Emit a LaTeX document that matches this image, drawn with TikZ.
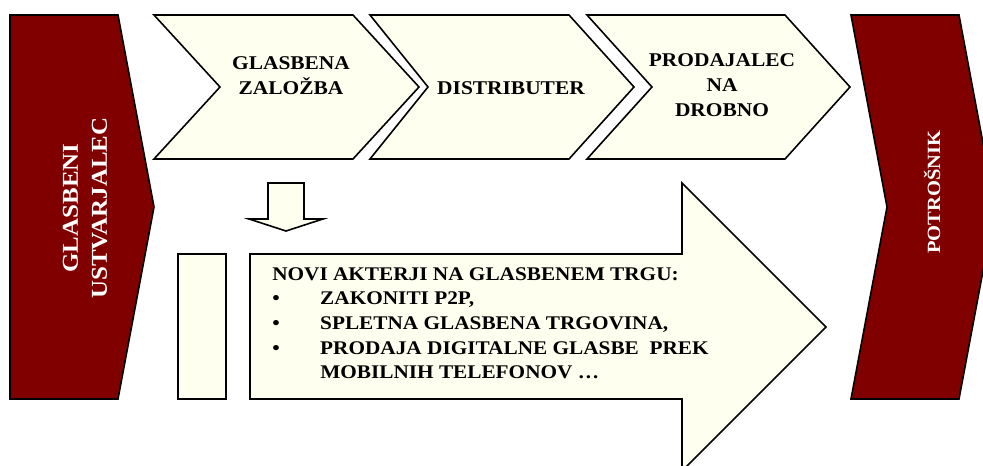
\documentclass[tikz,border=0pt]{standalone}
\usepackage{fontspec}
\setmainfont{Liberation Serif}[FakeStretch=1.1]
\definecolor{wine}{RGB}{128,0,0}
\definecolor{cream}{RGB}{255,255,240}

\begin{document}
\begin{tikzpicture}[x=0.75pt,y=-0.75pt,
        blk/.style={fill=wine,draw=black,line width=1.2pt},
        chv/.style={fill=cream,draw=black,line width=1.2pt},
        lab/.style={font=\bfseries\fontsize{14.6}{18.6}\selectfont,align=center,inner sep=0pt}]
            \clip (0,0) rectangle (983,466);
            \fill[white] (0,0) rectangle (983,466);

            % Place the dark end blocks
            \draw[blk] (10,15) -- (118,15) -- (154,207) -- (118,399) -- (10,399) -- cycle;
            \draw[blk] (851,15) -- (959,15) -- (995,207) -- (959,399) -- (851,399) -- (887,207) -- cycle;
            \node[rotate=90,text=white,align=center,inner sep=0pt,font=\bfseries\fontsize{17}{21.75}\selectfont] (u) at (85,208) {GLASBENI\\USTVARJALEC};
            \node[rotate=90,text=white,inner sep=0pt,font=\bfseries\fontsize{14}{17}\selectfont] (c) at (932,192) {POTROŠNIK};

            % The chevrons!
            \draw[chv] (154,15) -- (353,15) -- (419,87) -- (353,159) -- (154,159) -- (220,87) -- cycle;
            \draw[chv] (370,15) -- (569,15) -- (634,87) -- (569,159) -- (370,159) -- (428,87) -- cycle;
            \draw[chv] (587,15) -- (785,15) -- (850,87) -- (785,159) -- (587,159) -- (652,87) -- cycle;
            \node[lab] (z) at (291,76) {GLASBENA\\ZALOŽBA};
            \node[lab] (d) at (511,88) {DISTRIBUTER};
            \node[lab] (p) at (722,85) {PRODAJALEC\\NA\\DROBNO};

            % Down arrow, bar and the big arrow
            \draw[chv] (268,183) -- (304,183) -- (304,219) -- (323,219) -- (286,231) -- (249,219) -- (268,219) -- cycle;
            \draw[chv] (178,254) rectangle (226,399);
            \draw[chv] (250,254) -- (682,254) -- (682,183) -- (826,327) -- (682,471) -- (682,399) -- (250,399) -- cycle;
            \node[anchor=north west,align=left,inner sep=0pt,font=\bfseries\fontsize{14.5}{18.5}\selectfont] (n) at (272,267) {NOVI AKTERJI NA GLASBENEM TRGU:\\
                \makebox[36pt][l]{\textbullet}ZAKONITI P2P,\\
                \makebox[36pt][l]{\textbullet}SPLETNA GLASBENA TRGOVINA,\\
                \makebox[36pt][l]{\textbullet}PRODAJA DIGITALNE GLASBE\ \ PREK\\
                \hspace*{36pt}MOBILNIH TELEFONOV …};
        \end{tikzpicture}
\end{document}
